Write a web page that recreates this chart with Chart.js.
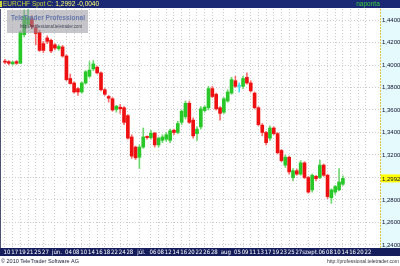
<!DOCTYPE html>
<html>
<head>
<meta charset="utf-8">
<style>
  html, body { margin: 0; padding: 0; background: #fff; }
  canvas { display: block; }
</style>
</head>
<body>
<canvas id="chart" width="400" height="266"></canvas>
<script src="https://cdn.jsdelivr.net/npm/chart.js@4.4.1/dist/chart.umd.min.js"></script>
<script>
/* global Chart */

// daily EUR/CHF candles, one per trading day from 13 May 2010
const open = [
  1.4035, 1.4030, 1.4010, 1.4030, 1.4015, 1.4270, 1.4360, 1.4410, 1.4330, 1.4290,
  1.4190, 1.4240, 1.4220, 1.4180, 1.4145, 1.4160, 1.4080, 1.3880, 1.3840, 1.3790,
  1.3760, 1.3840, 1.3900, 1.3965, 1.3980, 1.3930, 1.3780, 1.3720, 1.3700, 1.3605,
  1.3625, 1.3620, 1.3550, 1.3360, 1.3270, 1.3180, 1.3270, 1.3365, 1.3355, 1.3395,
  1.3290, 1.3330, 1.3340, 1.3330, 1.3420, 1.3400, 1.3490, 1.3540, 1.3660, 1.3510,
  1.3390, 1.3450, 1.3595, 1.3620, 1.3790, 1.3740, 1.3620, 1.3580, 1.3680, 1.3750,
  1.3860, 1.3810, 1.3810, 1.3890, 1.3840, 1.3750, 1.3620, 1.3465, 1.3400, 1.3350,
  1.3440, 1.3390, 1.3240, 1.3110, 1.3180, 1.3000, 1.3060, 1.3030, 1.3130, 1.3000,
  1.2890, 1.3010, 1.3000, 1.3110, 1.3020, 1.2820, 1.2870, 1.2890, 1.2940,
];
const high = [
  1.4050, 1.4040, 1.4035, 1.4040, 1.4300, 1.4490, 1.4495, 1.4440, 1.4360, 1.4310,
  1.4210, 1.4260, 1.4230, 1.4190, 1.4180, 1.4175, 1.4090, 1.3920, 1.3850, 1.3800,
  1.3850, 1.3950, 1.4030, 1.4040, 1.3990, 1.3940, 1.3790, 1.3730, 1.3710, 1.3640,
  1.3650, 1.3630, 1.3560, 1.3380, 1.3280, 1.3290, 1.3440, 1.3370, 1.3420, 1.3400,
  1.3360, 1.3380, 1.3400, 1.3430, 1.3430, 1.3500, 1.3600, 1.3680, 1.3680, 1.3530,
  1.3450, 1.3630, 1.3640, 1.3810, 1.3810, 1.3750, 1.3630, 1.3710, 1.3780, 1.3890,
  1.3900, 1.3840, 1.3900, 1.3930, 1.3860, 1.3760, 1.3630, 1.3480, 1.3410, 1.3460,
  1.3450, 1.3400, 1.3250, 1.3200, 1.3190, 1.3080, 1.3075, 1.3150, 1.3140, 1.3010,
  1.3030, 1.3020, 1.3155, 1.3120, 1.3030, 1.2900, 1.2930, 1.3080, 1.3015,
];
const low = [
  1.4010, 1.4000, 1.4000, 1.4005, 1.4010, 1.4250, 1.4330, 1.4320, 1.4180, 1.4120,
  1.4110, 1.4190, 1.4110, 1.4135, 1.4130, 1.4070, 1.3860, 1.3830, 1.3750, 1.3730,
  1.3750, 1.3830, 1.3890, 1.3950, 1.3920, 1.3770, 1.3730, 1.3670, 1.3590, 1.3580,
  1.3570, 1.3470, 1.3340, 1.3170, 1.3160, 1.3080, 1.3260, 1.3340, 1.3340, 1.3270,
  1.3270, 1.3310, 1.3320, 1.3310, 1.3380, 1.3390, 1.3470, 1.3520, 1.3480, 1.3350,
  1.3330, 1.3430, 1.3580, 1.3600, 1.3710, 1.3600, 1.3510, 1.3570, 1.3670, 1.3740,
  1.3800, 1.3760, 1.3790, 1.3830, 1.3760, 1.3610, 1.3460, 1.3370, 1.3290, 1.3330,
  1.3380, 1.3210, 1.3140, 1.3090, 1.3030, 1.2970, 1.3020, 1.3020, 1.2990, 1.2860,
  1.2870, 1.2970, 1.2990, 1.3010, 1.2810, 1.2770, 1.2850, 1.2880, 1.2930,
];
const close = [
  1.4025, 1.4015, 1.4025, 1.4015, 1.4285, 1.4435, 1.4420, 1.4340, 1.4280, 1.4130,
  1.4130, 1.4210, 1.4125, 1.4150, 1.4165, 1.4080, 1.3870, 1.3835, 1.3760, 1.3760,
  1.3840, 1.3940, 1.3955, 1.4010, 1.3930, 1.3780, 1.3740, 1.3705, 1.3600, 1.3635,
  1.3610, 1.3490, 1.3350, 1.3190, 1.3175, 1.3270, 1.3360, 1.3355, 1.3395, 1.3290,
  1.3350, 1.3360, 1.3380, 1.3415, 1.3400, 1.3480, 1.3590, 1.3660, 1.3490, 1.3370,
  1.3430, 1.3610, 1.3625, 1.3790, 1.3720, 1.3610, 1.3570, 1.3700, 1.3760, 1.3870,
  1.3810, 1.3810, 1.3880, 1.3840, 1.3770, 1.3620, 1.3470, 1.3400, 1.3310, 1.3440,
  1.3390, 1.3220, 1.3150, 1.3180, 1.3050, 1.3060, 1.3030, 1.3130, 1.3000, 1.2870,
  1.3020, 1.2990, 1.3110, 1.3020, 1.2830, 1.2890, 1.2920, 1.2960, 1.2992,
];

const priceTicks = [1.24, 1.26, 1.28, 1.30, 1.32, 1.34, 1.36, 1.38, 1.40, 1.42, 1.44];

// date strip: trading-day index and its label (runs past the last candle)
const dateIdx = [
  0, 2, 4, 6, 8, 10, 13, 16, 18, 20, 22, 24, 26, 28, 30, 32, 35, 38, 40, 42, 44, 46,
  48, 50, 52, 54, 57, 60, 62, 64, 66, 68, 70, 72, 74, 76, 79, 82, 84, 86, 88, 90, 92, 94,
];
const dateText = [
  '10', '17', '19', '21', '25', '27', 'jún.', '04', '08', '10', '14', '16', '18', '22',
  '24', '28', 'júl.', '06', '08', '12', '14', '16', '20', '22', '26', '28', 'aug', '05',
  '09', '11', '13', '17', '19', '23', '25', '27', 'szept.', '06', '08', '10', '14', '16',
  '20', '22',
];

const FONT = '"Liberation Sans", Arial, sans-serif';
const NARROW = '"Liberation Sans Narrow", "DejaVu Sans Condensed", "Liberation Sans", sans-serif';
const fmt = (v) => v.toFixed(4).replace('.', ',');

const candleColor = (i) => {
  if (close[i] > open[i]) return 'rgb(40, 200, 40)';
  if (close[i] < open[i]) return 'rgb(238, 16, 16)';
  return 'rgb(60, 220, 240)';
};
const wickColor = (i) => {
  if (close[i] > open[i]) return 'rgb(110, 215, 110)';
  if (close[i] < open[i]) return 'rgb(250, 110, 110)';
  return 'rgb(60, 220, 240)';
};

const frame = {
  id: 'frame',
  beforeDraw(chart) {
    const { ctx, chartArea: a, width, height } = chart;
    ctx.save();
    ctx.fillStyle = '#ffffff';
    ctx.fillRect(0, 0, width, height);
    // price column
    ctx.fillStyle = '#e4fafd';
    ctx.fillRect(a.right, a.top, width - a.right, a.bottom - a.top);
    // date strip
    ctx.fillStyle = '#151d5c';
    ctx.fillRect(0, a.bottom, width, 8);
    ctx.restore();
  },
  afterDatasetsDraw(chart) {
    const { ctx } = chart;
    ctx.save();
    ctx.fillStyle = 'rgba(150, 150, 158, 0.55)';
    ctx.fillRect(7, 10, 81, 23);
    ctx.textAlign = 'center';
    ctx.textBaseline = 'middle';
    ctx.fillStyle = 'rgba(95, 115, 170, 0.95)';
    ctx.font = 'bold 8px ' + FONT;
    ctx.fillText('TeleTrader Professional', 48, 18, 74);
    ctx.fillStyle = 'rgba(50, 50, 70, 0.9)';
    ctx.font = '5px ' + FONT;
    ctx.fillText('http://professional.teletrader.com', 51, 26.5, 62);
    ctx.restore();
  },
  afterDraw(chart) {
    const { ctx, chartArea: a, width, height, scales } = chart;
    ctx.save();
    // header
    ctx.fillStyle = '#1b2874';
    ctx.fillRect(0, 0, width, a.top - 1);
    ctx.fillStyle = '#c8d23c';
    ctx.fillRect(0, 1, 2, 6);
    ctx.font = '6.5px ' + FONT;
    ctx.textBaseline = 'middle';
    const head = 'EURCHF Spot C: ';
    ctx.fillStyle = '#c8d23c';
    ctx.fillText(head, 3, 4.5);
    const w = ctx.measureText(head).width;
    ctx.fillStyle = '#ffff70';
    ctx.fillText(fmt(close[close.length - 1]) + ' -0,0040', 3 + w, 4.5);
    ctx.fillStyle = '#3ad23a';
    ctx.textAlign = 'center';
    ctx.fillText('naponta', 368, 4.5);

    // axis line
    ctx.strokeStyle = '#e2c84a';
    ctx.setLineDash([2, 1]);
    ctx.beginPath();
    ctx.moveTo(a.right + 0.5, a.top);
    ctx.lineTo(a.right + 0.5, a.bottom);
    ctx.stroke();
    ctx.setLineDash([]);
    ctx.strokeStyle = '#505070';
    ctx.beginPath();
    ctx.moveTo(0.5, a.top);
    ctx.lineTo(0.5, a.bottom);
    ctx.stroke();

    // last price tag
    const last = close[close.length - 1];
    const y = scales.y.getPixelForValue(last);
    ctx.fillStyle = '#ffff00';
    ctx.fillRect(a.right + 1, y - 4, width - a.right - 1, 8);
    ctx.fillStyle = '#101030';
    ctx.textAlign = 'left';
    ctx.font = '6px ' + FONT;
    ctx.fillText(fmt(last), a.right + 2, y + 0.5);

    // footer
    ctx.fillStyle = '#1a1a3c';
    ctx.fillText('© 2010 TeleTrader Software AG', 1, height - 4.5, 78);
    ctx.fillStyle = '#333340';
    ctx.textAlign = 'right';
    ctx.fillText('http://professional.teletrader.com', width - 1, height - 4.5, 72);
    ctx.restore();
  },
};

new Chart(document.getElementById('chart'), {
  type: 'bar',
  data: {
    datasets: [
      {
        label: 'wick',
        data: open.map((o, i) => ({ x: i, y: [low[i], high[i]] })),
        backgroundColor: open.map((o, i) => wickColor(i)),
        barThickness: 1,
        grouped: false,
        order: 2,
      },
      {
        label: 'body',
        data: open.map((o, i) => ({ x: i, y: [o, close[i]] })),
        backgroundColor: open.map((o, i) => candleColor(i)),
        barThickness: 3,
        minBarLength: 1,
        grouped: false,
        order: 1,
      },
    ],
  },
  options: {
    responsive: false,
    animation: false,
    devicePixelRatio: 1,
    layout: { padding: { top: 9, left: 0, right: 0, bottom: 0 } },
    plugins: {
      legend: { display: false },
      tooltip: { enabled: false },
    },
    scales: {
      x: {
        type: 'linear',
        min: -1.3,
        max: 97.66,
        offset: false,
        afterBuildTicks: (axis) => {
          axis.ticks = dateIdx.map((v) => ({ value: v }));
        },
        afterFit: (axis) => {
          axis.height = 18;
        },
        grid: { color: '#cccccc', drawTicks: false, offset: false },
        border: { display: false, dash: [1, 2] },
        ticks: {
          autoSkip: false,
          maxRotation: 0,
          padding: 1,
          labelOffset: 2,
          color: '#ffffff',
          font: { family: NARROW, size: 6 },
          callback: (v) => dateText[dateIdx.indexOf(v)],
        },
      },
      y: {
        position: 'right',
        min: 1.237333,
        max: 1.449778,
        afterBuildTicks: (axis) => {
          axis.ticks = priceTicks.map((v) => ({ value: v }));
        },
        afterFit: (axis) => {
          axis.width = 20;
        },
        grid: { color: '#cccccc', drawTicks: false },
        border: { display: false, dash: [1, 2] },
        ticks: {
          padding: 2,
          color: '#101030',
          font: { family: FONT, size: 6 },
          callback: (v) => fmt(v),
        },
      },
    },
  },
  plugins: [frame],
});
</script>
</body>
</html>
